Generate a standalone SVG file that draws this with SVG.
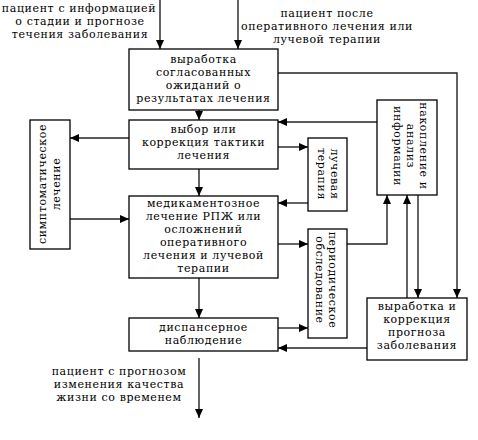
<svg xmlns="http://www.w3.org/2000/svg" width="478" height="440" viewBox="0 0 478 440">
<defs>
<style>
.b{fill:#fff;stroke:#000;stroke-width:1.3}
.t{font-family:"DejaVu Serif","Liberation Serif",serif;font-size:11px;letter-spacing:0.6px;fill:#000;text-anchor:middle}
.c{fill:none;stroke:#222;stroke-width:1.4}
</style>
<marker id="a" markerUnits="userSpaceOnUse" markerWidth="10" markerHeight="8" refX="9" refY="4" orient="auto">
<path d="M0,0 L9,4 L0,8 Z" fill="#000"/>
</marker>
</defs>
<rect width="478" height="440" fill="#fff"/>

<g id="connectors">
<line class="c" x1="160" y1="0" x2="160" y2="49" marker-end="url(#a)"/>
<line class="c" x1="238" y1="0" x2="238" y2="49" marker-end="url(#a)"/>
<polyline class="c" points="278,73 457,73 457,298" marker-end="url(#a)"/>
<line class="c" x1="199" y1="110" x2="199" y2="120" marker-end="url(#a)"/>
<line class="c" x1="129" y1="138" x2="70" y2="138" marker-end="url(#a)"/>
<line class="c" x1="70" y1="219" x2="129" y2="219" marker-end="url(#a)"/>
<line class="c" x1="199" y1="169" x2="199" y2="196" marker-end="url(#a)"/>
<line class="c" x1="278" y1="147" x2="308" y2="147" marker-end="url(#a)"/>
<line class="c" x1="308" y1="203" x2="278" y2="203" marker-end="url(#a)"/>
<line class="c" x1="377" y1="122" x2="278" y2="122" marker-end="url(#a)"/>
<line class="c" x1="278" y1="244" x2="308" y2="244" marker-end="url(#a)"/>
<polyline class="c" points="347,244 387,244 387,195" marker-end="url(#a)"/>
<line class="c" x1="407" y1="298" x2="407" y2="195" marker-end="url(#a)"/>
<line class="c" x1="418" y1="195" x2="418" y2="298" marker-end="url(#a)"/>
<line class="c" x1="199" y1="278" x2="199" y2="318" marker-end="url(#a)"/>
<line class="c" x1="278" y1="328" x2="308" y2="328" marker-end="url(#a)"/>
<line class="c" x1="367" y1="348" x2="278" y2="348" marker-end="url(#a)"/>
<line class="c" x1="199" y1="358" x2="199" y2="418" marker-end="url(#a)"/>
</g>

<g id="label-in-left">
<text class="t"><tspan x="79" y="12">пациент с информацией</tspan><tspan x="80" y="25">о стадии и прогнозе</tspan><tspan x="80" y="38">течения заболевания</tspan></text>
</g>
<g id="label-in-right">
<text class="t"><tspan x="327" y="17">пациент после</tspan><tspan x="327" y="30">оперативного лечения или</tspan><tspan x="327" y="43">лучевой терапии</tspan></text>
</g>
<g id="label-out">
<text class="t"><tspan x="119" y="375">пациент с прогнозом</tspan><tspan x="119" y="388">изменения качества</tspan><tspan x="119" y="401">жизни со временем</tspan></text>
</g>

<g id="n-expect">
<rect class="b" x="129" y="49" width="149" height="61"/>
<text class="t"><tspan x="203.5" y="63">выработка</tspan><tspan x="203.5" y="76">согласованных</tspan><tspan x="203.5" y="89">ожиданий о</tspan><tspan x="203.5" y="102">результатах лечения</tspan></text>
</g>
<g id="n-tactics">
<rect class="b" x="129" y="120" width="149" height="49"/>
<text class="t"><tspan x="203.5" y="133">выбор или</tspan><tspan x="203.5" y="146">коррекция тактики</tspan><tspan x="203.5" y="159">лечения</tspan></text>
</g>
<g id="n-drug">
<rect class="b" x="129" y="196" width="149" height="82"/>
<text class="t"><tspan x="203.5" y="207">медикаментозное</tspan><tspan x="203.5" y="220">лечение РПЖ или</tspan><tspan x="203.5" y="233">осложнений</tspan><tspan x="203.5" y="246">оперативного</tspan><tspan x="203.5" y="259">лечения и лучевой</tspan><tspan x="203.5" y="272">терапии</tspan></text>
</g>
<g id="n-dispensary">
<rect class="b" x="129" y="318" width="149" height="33"/>
<text class="t"><tspan x="203.5" y="331">диспансерное</tspan><tspan x="203.5" y="344">наблюдение</tspan></text>
</g>
<g id="n-symptomatic">
<rect class="b" x="30" y="120" width="40" height="129"/>
<text class="t" transform="translate(43,184) rotate(-90)"><tspan x="0" y="3">симптоматическое</tspan><tspan x="0" y="17">лечение</tspan></text>
</g>
<g id="n-radiation">
<rect class="b" x="308" y="138" width="39" height="73"/>
<text class="t" transform="translate(334,174) rotate(90)"><tspan x="0" y="3">лучевая</tspan><tspan x="0" y="16">терапия</tspan></text>
</g>
<g id="n-periodic">
<rect class="b" x="308" y="229" width="39" height="109"/>
<text class="t" transform="translate(332,280) rotate(90)"><tspan x="0" y="3">периодическое</tspan><tspan x="0" y="16">обследование</tspan></text>
</g>
<g id="n-info">
<rect class="b" x="377" y="100" width="60" height="95"/>
<text class="t" transform="translate(423,146) rotate(90)"><tspan x="0" y="3">накопление и</tspan><tspan x="0" y="16">анализ</tspan><tspan x="0" y="29">информации</tspan></text>
</g>
<g id="n-prognosis">
<rect class="b" x="367" y="298" width="100" height="62"/>
<text class="t"><tspan x="417" y="310">выработка и</tspan><tspan x="417" y="323">коррекция</tspan><tspan x="417" y="336">прогноза</tspan><tspan x="417" y="349">заболевания</tspan></text>
</g>
</svg>
